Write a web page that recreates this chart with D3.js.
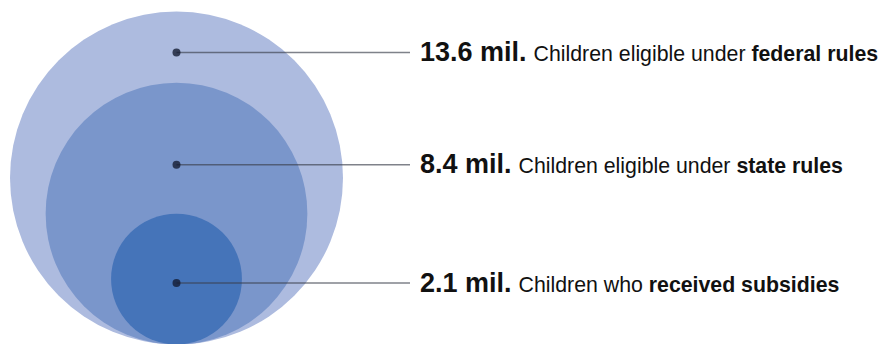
<!DOCTYPE html>
<html>
<head>
<meta charset="utf-8">
<script src="https://cdn.jsdelivr.net/npm/d3@7"></script>
<style>
  html, body { margin: 0; padding: 0; background: #fff; }
  svg { display: block; }
  text { font-family: Arial, "Liberation Sans", Helvetica, sans-serif; fill: #111; }
</style>
</head>
<body>
<svg id="chart" width="880" height="344"></svg>
<script>
// ---- data ----
const categories = ["federal", "state", "received"];
const values = [13.6, 8.4, 2.1];
const valueLabels = ["13.6 mil.", "8.4 mil.", "2.1 mil."];
const descPlain = ["Children eligible under ", "Children eligible under ", "Children who "];
const descBold = ["federal rules", "state rules", "received subsidies"];

// ---- layout ----
const W = 880, H = 344;
const cx = 176.5, baseY = 344.5;
const fills = ["#adbbdf", "#7a96cb", "#4574b9"];
const svg = d3.select("#chart");

const r = d3.scaleSqrt().domain([0, d3.max(values)]).range([0, 166.5]);
const rowY = d3.scalePoint().domain(categories).range([52.5, 283]);
const labelX = 420, lineEnd = 410;

const rows = categories.map((c, i) => ({
  c, v: values[i], lab: valueLabels[i], p: descPlain[i], b: descBold[i], fill: fills[i]
}));

svg.selectAll("circle.bubble").data(rows).join("circle")
  .attr("class", "bubble")
  .attr("cx", cx)
  .attr("cy", d => baseY - r(d.v))
  .attr("r", d => r(d.v))
  .attr("fill", d => d.fill);

// row y for middle label: slightly adjusted in reference (165)
const yOf = d => d.c === "state" ? rowY(d.c) - 3 : rowY(d.c);

svg.selectAll("line.leader").data(rows).join("line")
  .attr("class", "leader")
  .attr("x1", cx).attr("x2", lineEnd)
  .attr("y1", yOf).attr("y2", yOf)
  .attr("stroke", "#3a3f4c")
  .attr("stroke-opacity", 0.65)
  .attr("stroke-width", 1.4);

svg.selectAll("circle.dot").data(rows).join("circle")
  .attr("class", "dot")
  .attr("cx", cx)
  .attr("cy", yOf)
  .attr("r", 4)
  .attr("fill", "#121a30")
  .attr("fill-opacity", 0.78);

const t = svg.selectAll("text.lab").data(rows).join("text")
  .attr("class", "lab")
  .attr("x", labelX)
  .attr("y", d => yOf(d) + 8.5);
t.append("tspan").attr("font-weight", "bold").attr("font-size", 27).text(d => d.lab);
t.append("tspan").attr("font-size", 21.3).attr("dx", 7).text(d => d.p);
t.append("tspan").attr("font-size", 21.3).attr("font-weight", "bold").text(d => d.b);
</script>
</body>
</html>
